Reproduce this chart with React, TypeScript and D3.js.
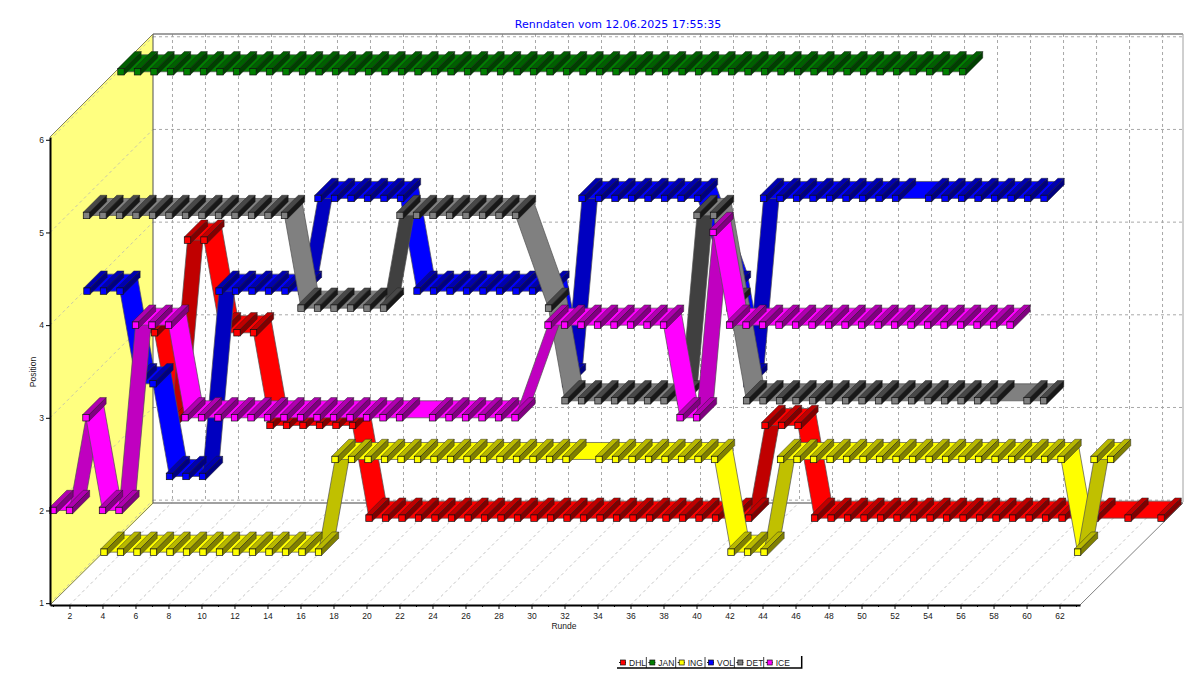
import { useEffect, useRef } from 'react'
import * as d3 from 'd3'

// positions per lap, index 0 = lap 1, null = no entry for that lap
const dhl = [3, 3, 2, 4, 4, 3, 3, 3, 2, 2, 2, 2, 2, 2, 1, 1, 1, 1, 1, 1, 1, 1, 1, 1, 1, 1, 1, 1, 1, 1, 1, 1, 1, 1, 1, 1, 1, 1, 2, 2, 2, 1, 1, 1, 1, 1, 1, 1, 1, 1, 1, 1, 1, 1, 1, 1, 1, 1, 1, null, 1, null, 1]
const jan = [6, 6, 6, 6, 6, 6, 6, 6, 6, 6, 6, 6, 6, 6, 6, 6, 6, 6, 6, 6, 6, 6, 6, 6, 6, 6, 6, 6, 6, 6, 6, 6, 6, 6, 6, 6, 6, 6, 6, 6, 6, 6, 6, 6, 6, 6, 6, 6, 6, 6, 6, 6]
const ing = [1, 1, 1, 1, 1, 1, 1, 1, 1, 1, 1, 1, 1, 1, 2, 2, 2, 2, 2, 2, 2, 2, 2, 2, 2, 2, 2, 2, 2, null, 2, 2, 2, 2, 2, 2, 2, 2, 1, 1, 1, 2, 2, 2, 2, 2, 2, 2, 2, 2, 2, 2, 2, 2, 2, 2, 2, 2, 2, 1, 2, 2]
const vol = [4, 4, 4, 3, 3, 2, 2, 2, 4, 4, 4, 4, 4, 4, 5, 5, 5, 5, 5, 5, 4, 4, 4, 4, 4, 4, 4, 4, 4, 3, 5, 5, 5, 5, 5, 5, 5, 5, null, 4, 3, 5, 5, 5, 5, 5, 5, 5, 5, 5, null, 5, 5, 5, 5, 5, 5, 5, 5]
const det = [null, 5, 5, 5, 5, 5, 5, 5, 5, 5, 5, 5, 5, 5, 4, 4, 4, 4, 4, 4, 5, 5, 5, 5, 5, 5, 5, 5, null, 4, 3, 3, 3, 3, 3, 3, 3, 3, 5, 5, 4, 3, 3, 3, 3, 3, 3, 3, 3, 3, 3, 3, 3, 3, 3, 3, 3, null, 3, 3]
const ice = [2, 2, 3, 2, 2, 4, 4, 4, 3, 3, 3, 3, 3, 3, 3, 3, 3, 3, 3, 3, 3, 3, null, 3, 3, 3, 3, 3, 3, null, 4, 4, 4, 4, 4, 4, 4, 4, 3, 3, 5, 4, 4, 4, 4, 4, 4, 4, 4, 4, 4, 4, 4, 4, 4, 4, 4, 4, 4]

const teams = ['DHL', 'JAN', 'ING', 'VOL', 'DET', 'ICE']
const laps = [dhl, jan, ing, vol, det, ice]
const flatColors = ['#ff0000', '#008000', '#ffff00', '#0000ff', '#808080', '#ff00ff']
const riseColors = ['#c00000', '#006000', '#c0c000', '#0000c0', '#404040', '#c000c0']
const topColors = ['#c00000', '#006000', '#b8b800', '#0000b0', '#484848', '#b000b0']
const sideColors = ['#800000', '#004000', '#808000', '#000080', '#181818', '#800080']

const roundTicks = [2, 4, 6, 8, 10, 12, 14, 16, 18, 20, 22, 24, 26, 28, 30, 32, 34, 36, 38, 40, 42, 44, 46, 48, 50, 52, 54, 56, 58, 60, 62]
const minorRoundTicks = [1, 3, 5, 7, 9, 11, 13, 15, 17, 19, 21, 23, 25, 27, 29, 31, 33, 35, 37, 39, 41, 43, 45, 47, 49, 51, 53, 55, 57, 59, 61, 63]
const positionTicks = [1, 2, 3, 4, 5, 6]

const width = 1200
const height = 683
const depth = 103
const bandDepth = 17
const markerSize = 3.2
const labelFont = '"Liberation Sans", Arial, sans-serif'

export default function App() {
  const svgRef = useRef<SVGSVGElement>(null)

  useEffect(() => {
    if (!svgRef.current) return
    const svg = d3.select(svgRef.current)
    svg.selectAll('*').remove()

    const xScale = d3.scaleLinear().domain([0.82, 63.24]).range([50, 1080])
    const yScale = d3.scaleLinear().domain([0.98, 6.03]).range([605, 137])
    const [left, right] = xScale.range()
    const [bottom, top] = yScale.range()

    const poly = d3.line()
    const g = svg.append('g')

    // walls
    g.append('path')
      .attr('d', poly([[left, top], [left + depth, top - depth], [left + depth, bottom - depth + 2], [left, bottom]]) + 'Z')
      .attr('fill', '#ffff80')
    const wallLine = (pts: [number, number][], color: string, w = 1) =>
      g.append('path').attr('d', poly(pts)).attr('fill', 'none').attr('stroke', color).attr('stroke-width', w)

    // grid
    const dashed = (pts: [number, number][], color: string) =>
      wallLine(pts, color).attr('stroke-dasharray', '3,3')
    positionTicks.forEach(p => {
      const y = yScale(p)
      dashed([[left, y], [left + depth, y - depth]], '#c8c8a8')
      dashed([[left + depth, y - depth], [right + depth, y - depth]], '#a8a8a8')
    })
    roundTicks.forEach(r => {
      const x = xScale(r)
      dashed([[x, bottom], [x + depth, bottom - depth]], '#c4c4c4')
      dashed([[x + depth, top - depth], [x + depth, bottom - depth]], '#a8a8a8')
    })

    wallLine([[left + depth, top - depth], [right + depth, top - depth]], '#808080', 1.5)
    wallLine([[right + depth, top - depth], [right + depth, bottom - depth]], '#a0a0a0')
    wallLine([[left + depth, bottom - depth + 1], [right + depth, bottom - depth + 1]], '#808080', 1.5)
    wallLine([[left + depth, top - depth], [left + depth, bottom - depth + 1]], '#505050')
    wallLine([[left, top], [left + depth, top - depth]], '#808060')
    wallLine([[left, bottom], [left + depth, bottom - depth + 1]], '#808060')
    wallLine([[right, bottom], [right + depth, bottom - depth + 1]], '#808080')

    // series, back to front
    laps.forEach((values, s) => {
      const z = (laps.length - 1 - s) * bandDepth
      const points = values
        .map((v, i) => (v === null ? null : { x: xScale(i + 1) + z, y: yScale(v) - z }))
        .filter(Boolean) as { x: number; y: number }[]
      const series = g.append('g').attr('class', teams[s])

      d3.pairs(points).forEach(([a, b]) => {
        series.append('path')
          .attr('d', poly([
            [a.x, a.y], [b.x, b.y],
            [b.x + bandDepth, b.y - bandDepth], [a.x + bandDepth, a.y - bandDepth]
          ]) + 'Z')
          .attr('fill', b.y < a.y ? riseColors[s] : flatColors[s])
          .attr('stroke', '#505050')
          .attr('stroke-width', 0.7)
      })

      const m = markerSize
      points.forEach(p => {
        series.append('path')
          .attr('d', poly([
            [p.x - m, p.y - m], [p.x + m, p.y - m],
            [p.x + m + bandDepth, p.y - m - bandDepth], [p.x - m + bandDepth, p.y - m - bandDepth]
          ]) + 'Z')
          .attr('fill', topColors[s]).attr('stroke', '#202020').attr('stroke-width', 0.45)
        series.append('path')
          .attr('d', poly([
            [p.x + m, p.y - m], [p.x + m, p.y + m],
            [p.x + m + bandDepth, p.y + m - bandDepth], [p.x + m + bandDepth, p.y - m - bandDepth]
          ]) + 'Z')
          .attr('fill', sideColors[s]).attr('stroke', '#202020').attr('stroke-width', 0.45)
        series.append('rect')
          .attr('x', p.x - m).attr('y', p.y - m)
          .attr('width', m * 2).attr('height', m * 2)
          .attr('fill', flatColors[s]).attr('stroke', '#101010').attr('stroke-width', 0.7)
      })
    })

    // axes
    const xAxis = g.append('g')
      .attr('transform', `translate(0,${bottom})`)
      .call(d3.axisBottom(xScale).tickValues(roundTicks).tickSize(4).tickSizeOuter(0).tickPadding(4))
    g.append('g')
      .attr('transform', `translate(0,${bottom})`)
      .call(d3.axisBottom(xScale).tickValues(minorRoundTicks).tickSize(2).tickSizeOuter(0).tickFormat(() => ''))
      .select('.domain').remove()
    const yAxis = g.append('g')
      .attr('transform', `translate(${left},0)`)
      .call(d3.axisLeft(yScale).tickValues(positionTicks).tickFormat(d3.format('d')).tickSize(4).tickSizeOuter(0).tickPadding(2))

    ;[xAxis, yAxis].forEach(axis => {
      axis.select('.domain').attr('stroke', '#000').attr('stroke-width', 2)
      axis.selectAll('text')
        .attr('font-family', labelFont).attr('font-size', 8.5).attr('fill', '#202020')
    })

    const label = (x: number, y: number, text: string, size = 8.5, fill = '#202020') =>
      g.append('text').attr('x', x).attr('y', y).attr('font-family', labelFont)
        .attr('font-size', size).attr('fill', fill).text(text)

    label(618, 28, 'Renndaten vom 12.06.2025 17:55:35', 11, '#0000ff')
      .attr('text-anchor', 'middle').attr('font-family', '"DejaVu Sans", Verdana, sans-serif')
    label(564, 629, 'Runde').attr('text-anchor', 'middle')
    label(0, 0, 'Position').attr('text-anchor', 'middle')
      .attr('transform', 'translate(36,372) rotate(-90)')

    // legend
    const legendX = d3.scalePoint<string>().domain(teams).range([617, 763.7])
    const legendRight = 801.7
    const legendTop = 657
    const legendBottom = 668
    teams.forEach((team, i) => {
      const x = legendX(team) as number
      const cy = (legendTop + legendBottom) / 2
      if (i > 0) wallLine([[x, legendTop], [x, legendBottom]], '#404040')
      wallLine([[x + 2, cy], [x + 9, cy]], '#202020')
      g.append('rect').attr('x', x + 3.5).attr('y', cy - 2.5).attr('width', 5).attr('height', 5)
        .attr('fill', flatColors[i]).attr('stroke', '#101010').attr('stroke-width', 0.7)
      label(x + 12, cy + 3, team, 8.5, '#202020')
    })
    wallLine([[617, legendBottom], [legendRight, legendBottom], [legendRight, legendTop - 1]], '#000', 1.5)
  }, [])

  return (
    <svg
      ref={svgRef}
      width={width}
      height={height}
      style={{ position: 'absolute', left: 0, top: 0, background: '#fff' }}
    />
  )
}
